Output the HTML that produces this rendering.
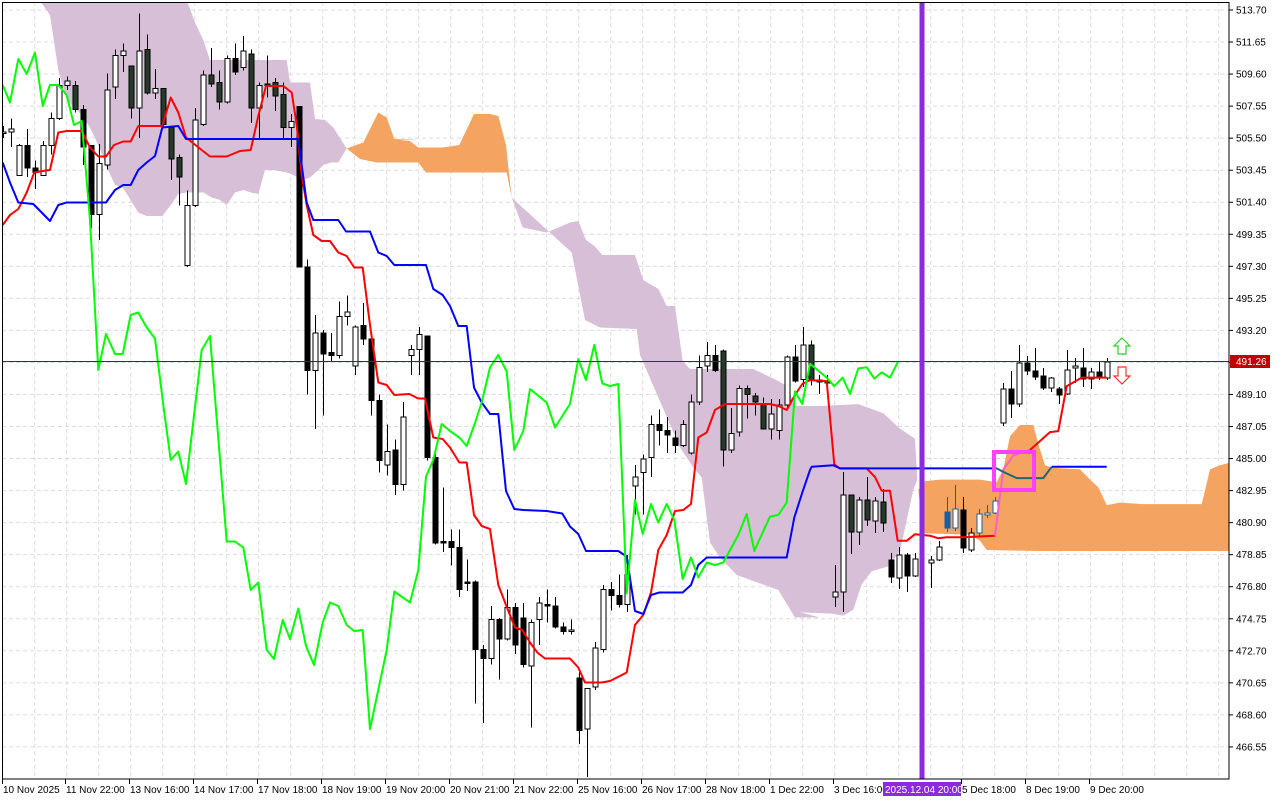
<!DOCTYPE html>
<html><head><meta charset="utf-8">
<style>
html,body{margin:0;padding:0;background:#fff;}
svg{display:block;}
text{font-family:"Liberation Sans",sans-serif;font-size:10px;fill:#000;}
</style></head>
<body>
<svg id="c" width="1280" height="800" xmlns="http://www.w3.org/2000/svg"></svg>
<script>
const S=document.getElementById('c');
const NS='http://www.w3.org/2000/svg';
function el(n,a,p){const e=document.createElementNS(NS,n);for(const k in a)e.setAttribute(k,a[k]);(p||S).appendChild(e);return e;}
const Z4=(x,y)=>[x/3,y/2], Z5=(x,y)=>[400+x/3,y/2], Z6=(x,y)=>[800+x/3,y/1.96];
function pts(f,arr){return arr.map(p=>f(p[0],p[1]));}
function str(a){return a.map(p=>p[0].toFixed(1)+','+p[1].toFixed(1)).join(' ');}
const defs=el('defs',{});const cp=el('clipPath',{id:'pl'},defs);el('rect',{x:2,y:2,width:1227,height:777},cp);
const G=el('g',{'clip-path':'url(#pl)'});
for(let i=0;i<24;i++){const y=10+i*32.04;el('line',{x1:2,x2:1229,y1:y,y2:y,stroke:'#dcdcdc','stroke-dasharray':'4,3','stroke-width':1},G);}
for(let x=2.7;x<1229;x+=32){el('line',{x1:x,x2:x,y1:2,y2:779,stroke:'#dcdcdc','stroke-dasharray':'4,3','stroke-width':1},G);}
const P1=[...pts(Z4,[[118,0],[560,0],[585,45],[610,80],[630,120],[860,120],[870,165],[930,165],[945,238],[975,240],[1000,255],[1040,297],[1015,325],[995,325],[970,330],[955,340],[930,355],[905,360],[880,350],[860,345],[820,340],[795,340],[775,388],[752,385],[730,380],[705,385],[680,410],[660,400],[635,395],[610,385],[558,385],[535,388],[510,412],[487,432],[440,432],[415,425],[392,400],[368,375],[345,370],[318,330],[295,290],[270,255],[245,230],[222,215],[200,200],[175,140],[150,30]])];
el('polygon',{points:str(P1),fill:'#d8bfd8'},G);
const O1=[...pts(Z4,[[1040,297],[1090,285],[1135,225],[1160,235],[1183,278],[1260,280]]),...pts(Z5,[[0,280],[30,282],[55,295],[128,295],[178,290],[222,228],[270,228],[295,232],[318,290],[335,395],[320,345],[78,345],[55,325],[0,325]]),...pts(Z4,[[1260,325],[1130,325],[1080,318]])];
el('polygon',{points:str(O1),fill:'#f4a460'},G);
const P2=[...pts(Z5,[[335,395],[368,455],[440,465],[510,445],[535,442],[558,480],[585,493],[607,510],[705,510],[730,560],[775,578],[800,612],[825,612],[848,722],[870,738],[1060,738],[1135,762],[1160,772],[1185,812],[1260,812]]),...pts(Z6,[[175,792],[250,810],[300,840],[345,860],[352,940],[340,960],[300,1080],[265,1110],[215,1120],[185,1145],[160,1195],[130,1207],[100,1203],[0,1200]]),...pts(Z5,[[1260,1235],[1185,1235],[1135,1180],[1010,1150],[960,1115],[930,1085],[905,955],[880,935],[840,895],[720,710],[710,658],[600,655],[555,640],[515,505]])];
el('polygon',{points:str(P2),fill:'#d8bfd8'},G);
const O2=pts(Z6,[[355,960],[375,943],[420,940],[540,940],[590,945],[610,920],[630,855],[660,833],[700,833],[715,870],[735,912],[760,917],[840,920],[870,940],[895,955],[920,990],[960,985],[1030,988],[1205,988],[1230,920],[1260,912],[1300,905],[1300,1080],[1210,1080],[715,1080],[560,1078],[540,1060],[510,1048],[370,1045]]);
el('polygon',{points:str(O2),fill:'#f4a460'},G);
const A=[[0,88,89,84,92,'w'],[1,86,88,79,98,'w'],[2,97,117,96,117,'w'],[3,97,112,86,118,'b'],[4,112,115,107,126,'b'],[5,97,117,94,117,'w'],[6,79,97,75,103,'w'],[7,57,79,52,80,'w'],[8,54,57,51,60,'w'],[9,57,73,54,75,'g'],[10,73,98,70,110,'b'],[11,97,143,97,152,'b'],[12,109,143,96,160,'w'],[13,60,110,49,113,'w'],[14,37,58,33,66,'w'],[15,34,37,29,48,'w'],[16,44,72,44,79,'g'],[17,34,72,9,92,'w'],[18,33,62,23,63,'g'],[19,59,62,46,66,'w'],[20,59,83,59,85,'g'],[21,85,106,85,120,'g'],[22,105,118,103,137,'g'],[23,137,177,127,178,'w'],[24,80,137,72,138,'w'],[25,50,83,47,84,'w'],[26,50,56,32,58,'g'],[27,55,68,47,73,'g'],[28,39,68,37,69,'w'],[29,39,48,29,50,'b'],[30,34,45,24,47,'w'],[31,36,72,33,82,'g'],[32,57,72,55,93,'w'],[33,56,57,37,65,'g'],[34,55,64,52,74,'g'],[35,63,85,55,92,'g'],[36,81,85,76,98,'w'],[37,71,178,71,178,'b'],[38,178,247,173,263,'b'],[39,222,247,210,286,'w'],[40,222,236,220,277,'b'],[41,235,237,222,241,'b'],[42,211,237,201,239,'w'],[43,208,211,197,217,'w'],[44,218,244,217,250,'w'],[45,217,226,202,230,'b'],[46,226,267,226,277,'b'],[47,267,307,263,315,'b'],[48,301,310,283,317,'w'],[49,300,323,293,330,'b'],[50,278,323,268,327,'w'],[51,233,237,230,250,'w'],[52,223,233,218,250,'w'],[53,224,305,224,307,'b'],[54,305,362,303,363,'b'],[55,361,362,325,368,'b'],[56,361,365,353,377,'b'],[57,365,393,353,398,'b'],[58,388,389,373,394,'b'],[59,388,433,387,469,'b'],[60,433,439,430,482,'b'],[61,413,439,404,443,'w'],[62,413,426,412,453,'b'],[63,405,426,393,427,'w'],[64,405,430,402,436,'b'],[65,412,443,402,445,'b'],[66,415,444,413,485,'w'],[67,402,413,398,430,'w'],[68,403,404,393,415,'b'],[69,404,418,398,419,'b'],[70,418,421,415,423,'b'],[71,420,421,413,423,'w'],[72,452,487,448,496,'b'],[73,459,486,459,518,'w'],[74,432,458,428,460,'w'],[75,393,433,390,435,'w'],[76,393,397,388,407,'b'],[77,397,403,383,405,'b'],[78,383,403,370,408,'w'],[79,318,324,310,343,'w'],[80,306,315,303,343,'w'],[81,283,305,277,318,'w'],[82,283,287,273,297,'b'],[83,287,290,278,302,'b'],[84,292,297,287,302,'b'],[85,283,297,280,298,'w'],[86,268,302,263,303,'w'],[87,245,268,237,270,'w'],[88,237,244,228,248,'w'],[89,237,247,230,248,'b'],[90,234,300,233,311,'g'],[91,289,300,272,302,'w'],[92,259,288,257,291,'w'],[93,259,263,257,279,'g'],[94,264,268,262,277,'g'],[95,269,286,265,286,'g'],[96,276,286,266,293,'w'],[97,270,287,266,293,'w'],[98,238,270,237,272,'w'],[99,238,254,230,255,'b'],[100,230,253,218,258,'w'],[101,230,253,227,257,'g']];
const B=[[102,380,382,375,394,'b'],[103,382,383,375,388,'b'],[104,592,597,565,607,'w'],[105,495,592,472,612,'w'],[106,495,532,495,554,'g'],[107,500,532,497,545,'w'],[108,500,520,477,526,'g'],[109,501,521,497,533,'w'],[110,502,523,489,532,'g'],[111,560,577,553,583,'b'],[112,555,578,547,589,'w'],[113,555,576,553,592,'b'],[114,559,576,553,577,'w'],[116,560,563,556,588,'w'],[117,547,560,541,561,'w'],[118,512,528,497,532,'B'],[119,509,528,485,531,'bw'],[120,510,548,497,553,'b'],[121,533,550,528,552,'w'],[122,514,533,509,536,'bw'],[123,513,515,505,518,'bw'],[124,501,513,497,514,'bw'],[125,389,423,383,426,'w'],[126,389,404,371,418,'b'],[127,363,404,345,407,'w'],[128,363,371,356,375,'b'],[129,371,377,348,380,'b'],[130,376,388,368,390,'b'],[131,378,388,377,392,'w'],[132,389,395,387,404,'b'],[133,370,394,350,395,'w'],[134,366,368,358,383,'w'],[135,368,379,348,387,'b'],[136,372,379,368,389,'w'],[137,372,378,362,380,'b'],[138,362,378,358,380,'w']];
function candle(k,bt,bb,wh,wl,t){
 const x=3+8*k+0.5;
 let col='#000',fill='#000';
 if(t==='w'){fill='#fff';}
 if(t==='g'){fill='#253a28';}
 if(t==='B'){col='#1560a8';fill='#1560a8';}
 if(t==='bw'){col='#1560a8';fill='#fff';}
 el('line',{x1:x,x2:x,y1:wh,y2:wl,stroke:col,'stroke-width':1},G);
 el('rect',{x:x-2.5,y:bt,width:5,height:Math.max(1,bb-bt),fill:fill,stroke:col,'stroke-width':1},G);
}
A.forEach(c=>candle(c[0],c[1]*1.5,c[2]*1.5,c[3]*1.5,c[4]*1.5,c[5]));
B.forEach(c=>candle(...c));
function line(p,col,w){el('polyline',{points:str(p),fill:'none',stroke:col,'stroke-width':w||2,'stroke-linejoin':'round'},G);}
const RED=[...pts(Z4,[[8,450],[30,430],[55,418],[80,385],[103,345],[128,342],[150,340],[175,265],[200,262],[245,262],[270,295],[295,313],[318,313],[342,290],[370,283],[392,283],[415,252],[487,252],[512,195],[535,225],[558,275],[605,300],[630,313],[680,313],[720,302],[752,300],[775,232],[798,172],[850,172],[875,185],[890,250],[905,350],[920,410],[940,470],[965,482],[990,482],[1015,505],[1040,512],[1063,535],[1088,535],[1110,650],[1135,765],[1160,770],[1183,790]]),...pts(Z5,[[28,788],[55,797],[75,797],[100,875],[128,878],[150,895],[178,925],[200,925],[222,1030],[245,1052],[270,1058],[295,1170],[318,1210],[345,1255],[367,1260],[390,1285],[412,1305],[435,1317],[510,1317],[535,1335],[555,1365],[605,1365],[630,1362],[680,1345],[705,1250],[730,1230],[753,1185],[775,1100],[800,1070],[825,1022],[850,1020],[873,1008],[895,875],[920,865],[945,820],[975,808],[1110,808],[1135,812],[1160,820],[1185,790],[1207,768]]),...pts(Z6,[[30,745],[80,747],[103,910],[120,918],[200,918],[225,935],[245,962],[270,962],[293,1060],[320,1060],[345,1047],[390,1050],[415,1055],[440,1053],[490,1053],[585,1050]])];
line(RED,'#ff0000');
line(pts(Z6,[[585,1050],[610,920],[640,893],[690,882]]),'#ff5fc8');
line(pts(Z6,[[690,882],[750,847],[775,845],[800,757],[845,740],[920,740]]),'#ff0000');
const BLUE=[...pts(Z4,[[8,325],[30,365],[55,405],[100,408],[150,442],[175,410],[200,405],[318,405],[345,380],[370,370],[392,370],[415,340],[440,325],[465,312],[487,255],[535,252],[558,278],[895,278],[905,330],[920,405],[940,440],[1015,440],[1038,463],[1110,463],[1135,505],[1160,512],[1183,530],[1260,530]]),...pts(Z5,[[78,530],[100,578],[128,590],[150,612],[175,652],[200,652],[222,775],[245,805],[270,828],[295,828],[318,982],[343,1018],[370,1020],[440,1022],[487,1027],[510,1053],[535,1068],[558,1102],[655,1102],[680,1113],[705,1222],[730,1228],[753,1190],[778,1185],[848,1185],[873,1170],[895,1130],[920,1115],[1160,1115],[1183,1035],[1207,985],[1230,940]]),...pts(Z6,[[35,915],[100,912],[120,918],[590,918]])];
line(BLUE,'#0000ff');
line(pts(Z6,[[590,918],[610,925],[650,937],[730,937],[755,915]]),'#1a6b6b');
line(pts(Z6,[[755,915],[920,915]]),'#0000ff');
const GREEN=[...pts(Z4,[[8,170],[30,205],[55,118],[80,148],[105,105],[128,212],[150,170],[175,170],[200,190],[222,250],[245,242],[270,440],[295,740],[318,668],[345,708],[368,708],[392,630],[415,625],[440,655],[465,677],[490,810],[512,920],[535,903],[558,968],[605,700],[630,672],[680,1083],[705,1083],[730,1095],[752,1180],[775,1165],[800,1300],[822,1318],[848,1240],[870,1278],[895,1217],[918,1292],[942,1330],[968,1245],[990,1205],[1015,1212],[1040,1250],[1063,1262],[1088,1260],[1110,1458],[1160,1300],[1183,1183],[1230,1205]]),...pts(Z5,[[30,1205],[55,1140],[78,953],[100,920],[125,848],[150,862],[178,875],[200,892],[223,850],[245,805],[270,735],[295,710],[320,743],[343,900],[370,862],[390,778],[440,805],[465,855],[510,808],[535,718],[558,760],[583,690],[607,767],[630,772],[655,768],[680,1187],[705,1000],[728,1068],[753,1008],[775,1045],[800,1008],[823,1040],[848,1158],[873,1115],[895,1155],[920,1125],[945,1130],[970,1125],[1015,1070],[1040,1028],[1063,1102],[1110,1033],[1135,1030],[1160,1005],[1185,783],[1207,808]]),...pts(Z6,[[30,713],[80,740],[103,757],[128,740],[150,772],[175,722],[200,720],[223,742],[245,730],[270,740],[295,708]])];
line(GREEN,'#00ff00');
el('line',{x1:2,x2:1229,y1:361.5,y2:361.5,stroke:'#a00000','stroke-width':1},G);
el('rect',{x:994,y:452,width:40,height:38,fill:'none',stroke:'#ff40ff','stroke-width':4},G);
el('rect',{x:919.5,y:2,width:5,height:777,fill:'#8a2be2'},G);
el('path',{d:'M1122,338 L1130,346 L1126,346 L1126,354 L1118,354 L1118,346 L1114,346 Z',fill:'#fff',stroke:'#33cc33','stroke-width':1.2});
el('path',{d:'M1122,384 L1130,376 L1126,376 L1126,367 L1118,367 L1118,376 L1114,376 Z',fill:'#fff',stroke:'#ff3333','stroke-width':1.2});
el('rect',{x:2.5,y:2.5,width:1226.5,height:776.5,fill:'none',stroke:'#000','stroke-width':1});
const labs=['513.70','511.65','509.60','507.55','505.50','503.45','501.40','499.35','497.30','495.25','493.20','491.15','489.10','487.05','485.00','482.95','480.90','478.85','476.80','474.75','472.70','470.65','468.60','466.55'];
labs.forEach((l,i)=>{const y=10+i*32.04;el('line',{x1:1229,x2:1233,y1:y,y2:y,stroke:'#000'});if(i!==11){const t=el('text',{x:1236,y:y+3.5});t.textContent=l;}});
el('rect',{x:1230,y:355,width:40,height:13,fill:'#c00000'});
const pt=el('text',{x:1236,y:365,style:'fill:#fff'});pt.textContent='491.26';
const tl=[[3,'10 Nov 2025'],[66,'11 Nov 22:00'],[130,'13 Nov 16:00'],[194,'14 Nov 17:00'],[258,'17 Nov 18:00'],[322,'18 Nov 19:00'],[386,'19 Nov 20:00'],[450,'20 Nov 21:00'],[514,'21 Nov 22:00'],[578,'25 Nov 16:00'],[642,'26 Nov 17:00'],[706,'28 Nov 18:00'],[770,'1 Dec 22:00'],[834,'3 Dec 16:00'],[962,'5 Dec 18:00'],[1026,'8 Dec 19:00'],[1090,'9 Dec 20:00']];
tl.forEach(([x,s])=>{el('line',{x1:x-0.5,x2:x-0.5,y1:779,y2:784,stroke:'#000'});const t=el('text',{x:x,y:793});t.textContent=s;});
el('rect',{x:883,y:782,width:78,height:14,fill:'#8a2be2'});
const hl=el('text',{x:885,y:793,style:'fill:#fff'});hl.textContent='2025.12.04 20:00';
</script>
</body></html>
